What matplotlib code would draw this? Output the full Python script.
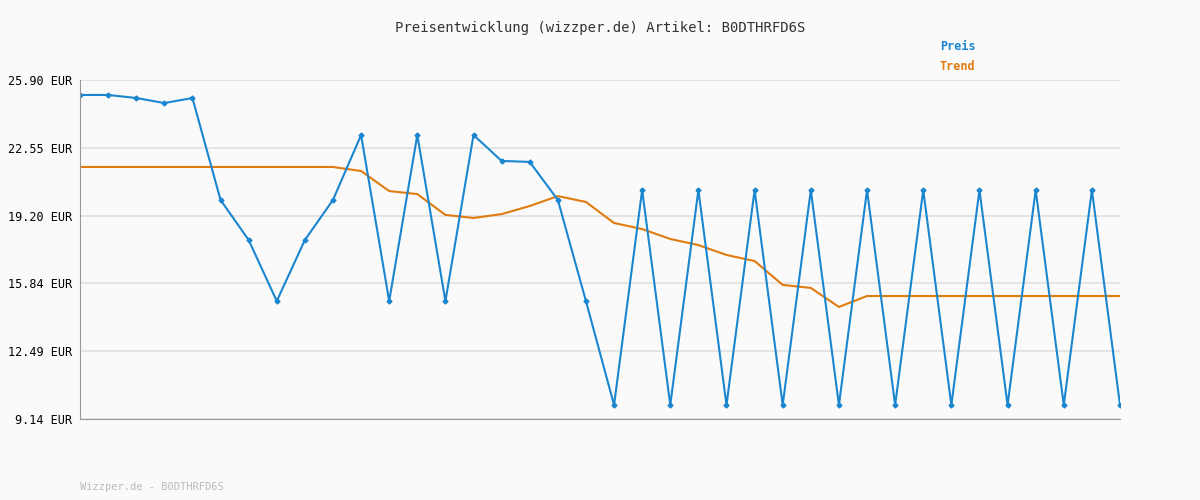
import matplotlib
matplotlib.use('Agg')
import matplotlib.pyplot as plt

preis = [25.16, 25.16, 25.01, 24.76, 25.01, 19.97, 17.99, 14.97, 17.99, 19.97,
         23.18, 14.97, 23.18, 14.97, 23.18, 21.90, 21.85, 19.97, 14.97, 9.83,
         20.46, 9.83, 20.46, 9.83, 20.46, 9.83, 20.46, 9.83, 20.46, 9.83,
         20.46, 9.83, 20.46, 9.83, 20.46, 9.83, 20.46, 9.83]
trend = [21.60] * 10 + [21.40, 20.41, 20.26, 19.23, 19.08, 19.27, 19.67, 20.16,
         19.87, 18.83, 18.53, 18.04, 17.74, 17.25, 16.95, 15.77, 15.62, 14.68] + [15.22] * 10
yticks = [9.14, 12.49, 15.84, 19.20, 22.55, 25.90]

plt.rcParams['font.family'] = 'DejaVu Sans Mono'
fig = plt.figure(figsize=(12, 5), dpi=100, facecolor='#fafafa')
ax = fig.add_axes([80 / 1200, 1 - 419 / 500, 1040 / 1200, 339 / 500])
ax.set_facecolor('#fafafa')
x = list(range(len(preis)))
ax.plot(x, trend, color='#e07b10', lw=1.5)
ax.plot(x, preis, color='#1a86d0', lw=1.5, marker='D', markersize=2.5)
ax.set_xlim(0, len(preis) - 1)
ax.set_ylim(yticks[0], yticks[-1])
ax.set_yticks(yticks)
ax.set_yticklabels([f'{v:.2f} EUR' for v in yticks], fontsize=8.5)
ax.set_xticks([])
ax.grid(axis='y', color='#e0e0e0', lw=1.2)
ax.tick_params(axis='y', length=0, pad=6)
for s in ['top', 'right']:
    ax.spines[s].set_visible(False)
ax.spines['left'].set_color('#999999')
ax.spines['bottom'].set_color('#999999')
fig.text(0.5, 1 - 28 / 500, 'Preisentwicklung (wizzper.de) Artikel: B0DTHRFD6S',
         ha='center', va='center', fontsize=10, color='#333333')
fig.text(940 / 1200, 1 - 47 / 500, 'Preis', color='#1a86d0', fontsize=8.5,
         fontweight='bold', va='center')
fig.text(940 / 1200, 1 - 67 / 500, 'Trend', color='#e07b10', fontsize=8.5,
         fontweight='bold', va='center')
fig.text(80 / 1200, 1 - 487 / 500, 'Wizzper.de - B0DTHRFD6S', color='#bbbbbb',
         fontsize=7.5, va='center')
fig.savefig('out.png', facecolor=fig.get_facecolor())
